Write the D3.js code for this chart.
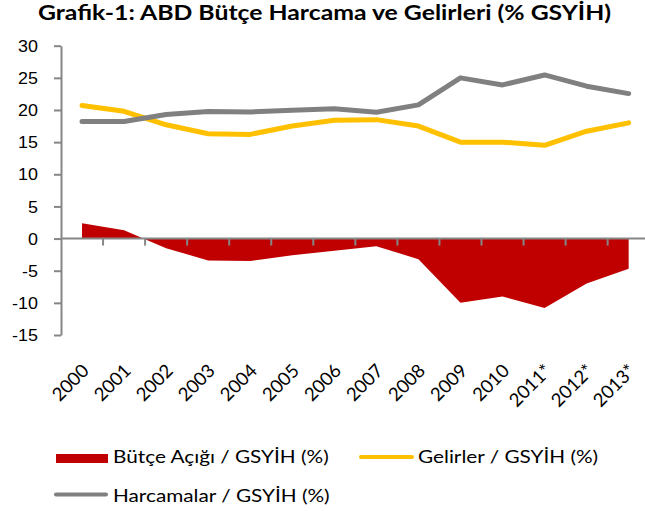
<!DOCTYPE html>
<meta charset="utf-8">
<style>
  body { margin: 0; background: #fff; }
  svg { font-family: Lato, "Open Sans", sans-serif; }
  .title { font-weight: bold; font-size: 21px; }
  .yaxis text { font-size: 16px; fill: #000; }
  .xlab { font-size: 18.5px; fill: #000; }
  .legend text { font-size: 17.6px; fill: #000; }
  .yaxis path, .yaxis line, .xaxis line { stroke: #868686; stroke-width: 2px; }
</style>
<body>
<svg width="645" height="511"></svg>
<script src="https://cdn.jsdelivr.net/npm/d3@7"></script>
<script>
  var years = ["2000", "2001", "2002", "2003", "2004", "2005", "2006", "2007",
               "2008", "2009", "2010", "2011*", "2012*", "2013*"];
  var deficit = [2.4, 1.3, -1.5, -3.4, -3.5, -2.6, -1.9, -1.2, -3.2, -10.0, -9.0, -10.8, -7.0, -4.7];
  var revenue = [20.7, 19.8, 17.7, 16.3, 16.2, 17.5, 18.4, 18.5, 17.5, 15.0, 15.0, 14.5, 16.7, 18.0];
  var spending = [18.2, 18.2, 19.3, 19.75, 19.7, 19.95, 20.2, 19.65, 20.8, 25.0, 23.9, 25.45, 23.7, 22.55];
  var yTicks = [-15, -10, -5, 0, 5, 10, 15, 20, 25, 30];

  var svg = d3.select("svg");
  var stretch = 1.18; // text in the picture is wider than it is tall

  var x = d3.scaleBand().domain(years).range([61, 649.7]).padding(0);
  var y = d3.scaleLinear().domain([-15, 30]).range([335, 45.7]);
  var cx = function(d, i) { return x(years[i]) + x.bandwidth() / 2; };

  svg.append("text")
    .attr("class", "title")
    .attr("transform", "translate(38,20) scale(" + stretch + ",1)")
    .text("Grafik-1: ABD Bütçe Harcama ve Gelirleri (% GSYİH)");

  // deficit area
  svg.append("path")
    .datum(deficit)
    .attr("fill", "#C00000")
    .attr("d", d3.area().x(cx).y0(y(0)).y1(function(d) { return y(d); }));

  // y axis
  svg.append("g")
    .attr("class", "yaxis")
    .attr("transform", "translate(61,0)")
    .call(d3.axisLeft(y).tickValues(yTicks).tickSize(7).tickSizeOuter(0)
      .tickFormat(function(d) { return String(d); }))
    .call(function(g) {
      g.selectAll("text")
        .attr("x", 0)
        .attr("dy", "0.35em")
        .attr("transform", "translate(-23,0) scale(1.12,1)");
    });

  // x axis at zero
  var xa = svg.append("g").attr("class", "xaxis");
  xa.append("line")
    .attr("x1", 61).attr("x2", 645)
    .attr("y1", y(0)).attr("y2", y(0));
  xa.selectAll(".tk")
    .data(years.slice(1))
    .enter().append("line")
      .attr("class", "tk")
      .attr("x1", function(d) { return x(d); })
      .attr("x2", function(d) { return x(d); })
      .attr("y1", y(0)).attr("y2", y(0) + 7);

  svg.selectAll(".xlab")
    .data(years)
    .enter().append("text")
      .attr("class", "xlab")
      .attr("text-anchor", "end")
      .attr("transform", function(d, i) {
        return "translate(" + (cx(d, i) + 8) + ",372) rotate(-45)";
      })
      .text(function(d) { return d; });

  var line = d3.line().x(cx).y(function(d) { return y(d); });

  svg.append("path")
    .datum(revenue)
    .attr("fill", "none")
    .attr("stroke", "#FFC000")
    .attr("stroke-width", 5)
    .attr("stroke-linecap", "round")
    .attr("stroke-linejoin", "round")
    .attr("d", line);

  svg.append("path")
    .datum(spending)
    .attr("fill", "none")
    .attr("stroke", "#808080")
    .attr("stroke-width", 5)
    .attr("stroke-linecap", "round")
    .attr("stroke-linejoin", "round")
    .attr("d", line);

  // legend
  var lg = svg.append("g").attr("class", "legend");
  var legText = function(tx, ty, label) {
    lg.append("text")
      .attr("transform", "translate(" + tx + "," + ty + ") scale(" + stretch + ",1)")
      .text(label);
  };
  lg.append("rect")
    .attr("x", 56).attr("y", 454).attr("width", 52).attr("height", 9)
    .attr("fill", "#C00000");
  legText(113, 463, "Bütçe Açığı / GSYİH (%)");
  lg.append("line")
    .attr("x1", 361).attr("x2", 412).attr("y1", 457).attr("y2", 457)
    .attr("stroke", "#FFC000").attr("stroke-width", 4).attr("stroke-linecap", "round");
  legText(418, 463, "Gelirler / GSYİH (%)");
  lg.append("line")
    .attr("x1", 56).attr("x2", 106).attr("y1", 494.5).attr("y2", 494.5)
    .attr("stroke", "#808080").attr("stroke-width", 4).attr("stroke-linecap", "round");
  legText(113, 501.5, "Harcamalar / GSYİH (%)");
</script>
</body>
